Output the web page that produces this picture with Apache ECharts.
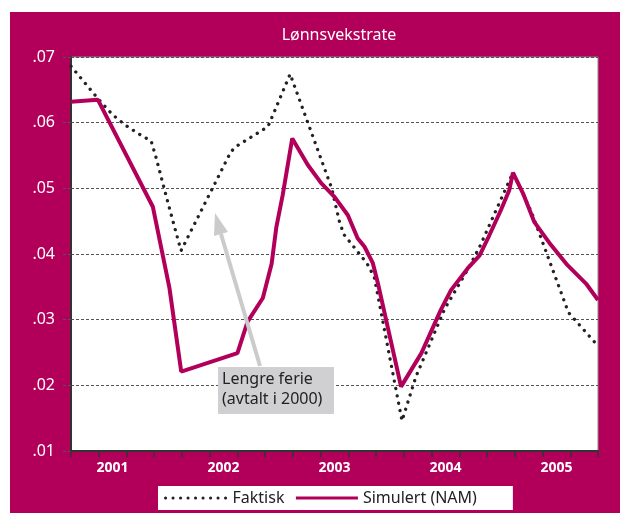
<!DOCTYPE html>
<html>
<head>
<meta charset="utf-8">
<script src="https://cdn.jsdelivr.net/npm/echarts@6/dist/echarts.min.js"></script>
<style>
html, body { margin: 0; padding: 0; background: #fff; }
#chart { width: 620px; height: 513px; }
</style>
</head>
<body>
<div id="chart"></div>
<script>
// x = months since Jan 2001 (quarter ticks every 3)
var years = ['2001', '2002', '2003', '2004', '2005'];
var faktisk = [
    [0, .0686], [2.83, .0638], [4.5, .0612], [5.8, .0597], [7.2, .0584], [8.67, .0572],
    [9.2, .0547], [10.3, .0488], [11.2, .0441], [11.9, .0405], [17.3, .0556], [18.0, .0565],
    [21.3, .0594], [22.0, .0617], [23.7, .0674], [28.2, .0500], [29.0, .0451], [29.5, .0430],
    [32.0, .0386], [32.8, .0365], [35.8, .0146], [37.3, .0213], [40.4, .0316], [43.1, .0381],
    [44.3, .0414], [47.8, .0524], [49.8, .0464], [53.8, .0311], [57, .0260]
];
var simulert = [
    [0, .0632], [2.9, .0635], [8.85, .0472], [10.65, .0348], [11.92, .0221], [18.0, .0249],
    [19.1, .0297], [20.75, .0333], [21.7, .0385], [22.2, .0440], [22.9, .0490], [23.93, .0576],
    [25.6, .0536], [27.06, .0508], [28.5, .0487], [29.95, .0459], [31.0, .0424], [31.75, .0411],
    [32.65, .0386], [33.2, .0355], [35.7, .0198], [37.9, .0249], [40.0, .0315], [41.1, .0345],
    [42.9, .0378], [44.2, .0398], [45.1, .0424], [46.5, .0467], [47.4, .0497], [47.8, .0524],
    [48.9, .0492], [50.1, .0449], [51.9, .0414], [53.7, .0383], [55.7, .0355], [57, .0330]
];

var magenta = '#b2005a';
var myChart = echarts.init(document.getElementById('chart'));

var option = {
    animation: false,
    textStyle: { fontFamily: 'Noto Sans' },
    title: {
        text: 'Lønnsvekstrate',
        left: 334, top: 22, textAlign: 'center',
        textStyle: { color: '#fff', fontSize: 16, fontWeight: 'normal' }
    },
    legend: {
        left: 158, top: 486,
        backgroundColor: '#fff',
        padding: [4, 36, 4, 6],
        itemWidth: 62, itemHeight: 14, itemGap: 10,
        itemStyle: { opacity: 0 },
        lineStyle: { width: 3 },
        textStyle: { color: '#222', fontSize: 16 },
        data: ['Faktisk', 'Simulert (NAM)']
    },
    grid: {
        left: 71, right: 22, top: 57, bottom: 62,
        show: true, backgroundColor: '#fff', borderColor: '#888', borderWidth: 1
    },
    xAxis: [{
        type: 'value', min: 0, max: 57, interval: 3,
        axisLine: { lineStyle: { color: '#333', width: 2 } },
        axisTick: { length: 6, lineStyle: { color: '#333', width: 1.5 } },
        axisLabel: { show: false },
        splitLine: { show: false }
    }, {
        type: 'value', min: 0, max: 57, interval: 1.5, position: 'bottom',
        axisLine: { show: false }, axisTick: { show: false }, splitLine: { show: false },
        axisLabel: {
            color: '#fff', fontSize: 14, fontWeight: 'bold', margin: 10,
            formatter: function (v) {
                var k = (v - 4.5) / 12;
                if (Math.abs(k - Math.round(k)) < 1e-6) return years[Math.round(k)] || '';
                return '';
            }
        }
    }],
    yAxis: {
        type: 'value', min: .01, max: .07, interval: .01,
        axisLine: { show: true, lineStyle: { color: '#333', width: 2 } },
        axisTick: { show: true, length: 9, lineStyle: { color: '#555', type: [3, 2] } },
        axisLabel: {
            color: '#fff', fontSize: 16, margin: 16,
            formatter: function (v) { return v.toFixed(2).replace(/^0/, ''); }
        },
        splitLine: { lineStyle: { color: '#555', type: [3, 2], width: 1 } }
    },
    series: [{
        name: 'Faktisk', type: 'line', symbol: 'none',
        data: faktisk,
        itemStyle: { color: '#222' },
        lineStyle: { color: '#222', width: 3.3, type: [0.1, 7.4], cap: 'round' },
        z: 3
    }, {
        name: 'Simulert (NAM)', type: 'line', symbol: 'none',
        data: simulert,
        itemStyle: { color: magenta },
        lineStyle: { color: magenta, width: 4 },
        z: 4
    }],
    graphic: [
        { type: 'rect', z: -10, shape: { x: 10, y: 12, width: 610, height: 501 }, style: { fill: magenta } },
        // annotation arrow + box
        { type: 'line', z: 100, shape: { x1: 260, y1: 366, x2: 221, y2: 234 }, style: { stroke: '#cbcbcb', lineWidth: 4 } },
        { type: 'polygon', z: 100, shape: { points: [[215, 213], [228, 232], [214, 236]] }, style: { fill: '#cbcbcb' } },
        { type: 'rect', z: 100, shape: { x: 218, y: 367, width: 116, height: 47 }, style: { fill: '#d0d0d2' } },
        { type: 'text', z: 101, left: 222, top: 369, style: { text: 'Lengre ferie\n(avtalt i 2000)', fill: '#222', font: '16px "Noto Sans"', lineHeight: 20 } }
    ]
};

myChart.setOption(option);
</script>
</body>
</html>
